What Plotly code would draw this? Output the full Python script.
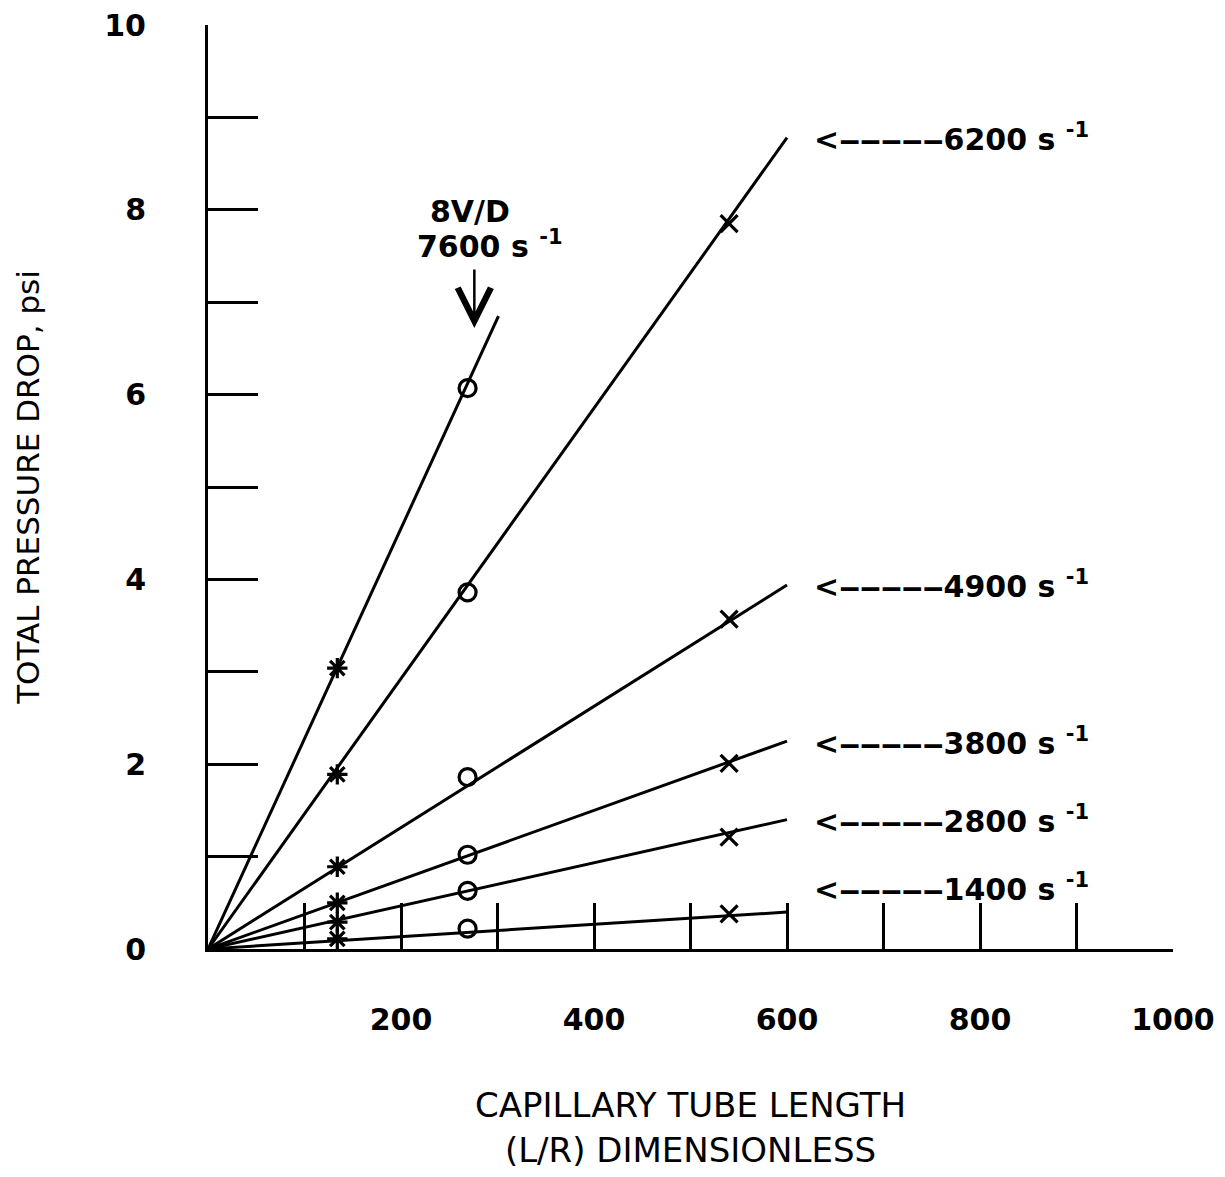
import plotly.graph_objects as go

# ---- data ----
shear_rates = ["7600", "6200", "4900", "3800", "2800", "1400"]
lr_points = [134, 269, 540]                      # L/R of measured tubes
dp_7600 = [3.04, 6.07]
dp_6200 = [1.89, 3.86, 7.85]
dp_4900 = [0.89, 1.86, 3.57]
dp_3800 = [0.50, 1.02, 2.01]
dp_2800 = [0.29, 0.63, 1.21]
dp_1400 = [0.11, 0.22, 0.38]
fit_end_x = [301, 600, 600, 600, 600, 600]
fit_end_y = [6.85, 8.78, 3.94, 2.25, 1.40, 0.40]
label_y = [None, 8.78, 3.94, 2.25, 1.40, 0.67]
point_symbols = ["asterisk-open", "circle-open", "x-thin-open"]

x_tick_vals = list(range(100, 1001, 100))
x_tick_text = ["", "200", "", "400", "", "600", "", "800", "", "1000"]
y_tick_vals = list(range(0, 11))
y_tick_text = ["0", "", "2", "", "4", "", "6", "", "8", "", "10"]

series = [dp_7600, dp_6200, dp_4900, dp_3800, dp_2800, dp_1400]

FONT = "DejaVu Sans"
fig = go.Figure()

for i, rate in enumerate(shear_rates):
    # fitted straight line through origin
    fig.add_trace(go.Scatter(
        x=[0, fit_end_x[i]], y=[0, fit_end_y[i]], mode="lines",
        line=dict(color="black", width=3), showlegend=False, hoverinfo="skip"))
    pts = series[i]
    fig.add_trace(go.Scatter(
        x=lr_points[:len(pts)], y=pts, mode="markers",
        marker=dict(symbol=point_symbols[:len(pts)], size=17, color="black",
                    line=dict(color="black", width=3.2)),
        showlegend=False, name=rate + " s-1", cliponaxis=False))

DASH = "\u2012" * 5
for i, rate in enumerate(shear_rates):
    if label_y[i] is None:
        continue
    fig.add_annotation(x=626, y=label_y[i], xref="x", yref="y",
                       text=f"<b>&lt;{DASH}{rate} s <sup>-1</sup></b>", showarrow=False,
                       xanchor="left", yanchor="middle",
                       font=dict(family=FONT, size=30, color="black"))

fig.add_annotation(x=271, y=7.98, xref="x", yref="y", text="<b>8V/D</b>", showarrow=False,
                   font=dict(family=FONT, size=30, color="black"))
fig.add_annotation(x=292, y=7.62, xref="x", yref="y", text="<b>7600 s <sup>-1</sup></b>",
                   showarrow=False, font=dict(family=FONT, size=30, color="black"))
fig.add_annotation(x=276, y=6.72, xref="x", yref="y", text="", showarrow=True,
                   ax=0, ay=-60, arrowhead=5, arrowsize=2.6, arrowwidth=2.5,
                   arrowcolor="black")

fig.update_xaxes(range=[0, 1000], showline=True, linecolor="black", linewidth=3,
                 ticks="inside", ticklen=46, tickwidth=3, tickcolor="black",
                 tickmode="array", tickvals=x_tick_vals, ticktext=x_tick_text,
                 ticklabelstandoff=42, showgrid=False, zeroline=False,
                 tickfont=dict(family=FONT, size=30, color="black", weight="bold"),
                 title=dict(text="CAPILLARY TUBE LENGTH<br>(L/R) DIMENSIONLESS",
                            font=dict(family=FONT, size=34, color="black"), standoff=58))
fig.update_yaxes(range=[0, 10], showline=True, linecolor="black", linewidth=3,
                 ticks="inside", ticklen=50, tickwidth=3, tickcolor="black",
                 tickmode="array", tickvals=y_tick_vals, ticktext=y_tick_text,
                 ticklabelstandoff=53, showgrid=False, zeroline=False,
                 tickfont=dict(family=FONT, size=30, color="black", weight="bold"),
                 title=dict(text="TOTAL PRESSURE DROP, psi",
                            font=dict(family=FONT, size=31, color="black"), standoff=56))

fig.update_layout(width=1225, height=1177, plot_bgcolor="white", paper_bgcolor="white",
                  margin=dict(l=208, r=52, t=25, b=228, autoexpand=False),
                  font=dict(family=FONT, color="black"))

fig.write_html("out.html")
